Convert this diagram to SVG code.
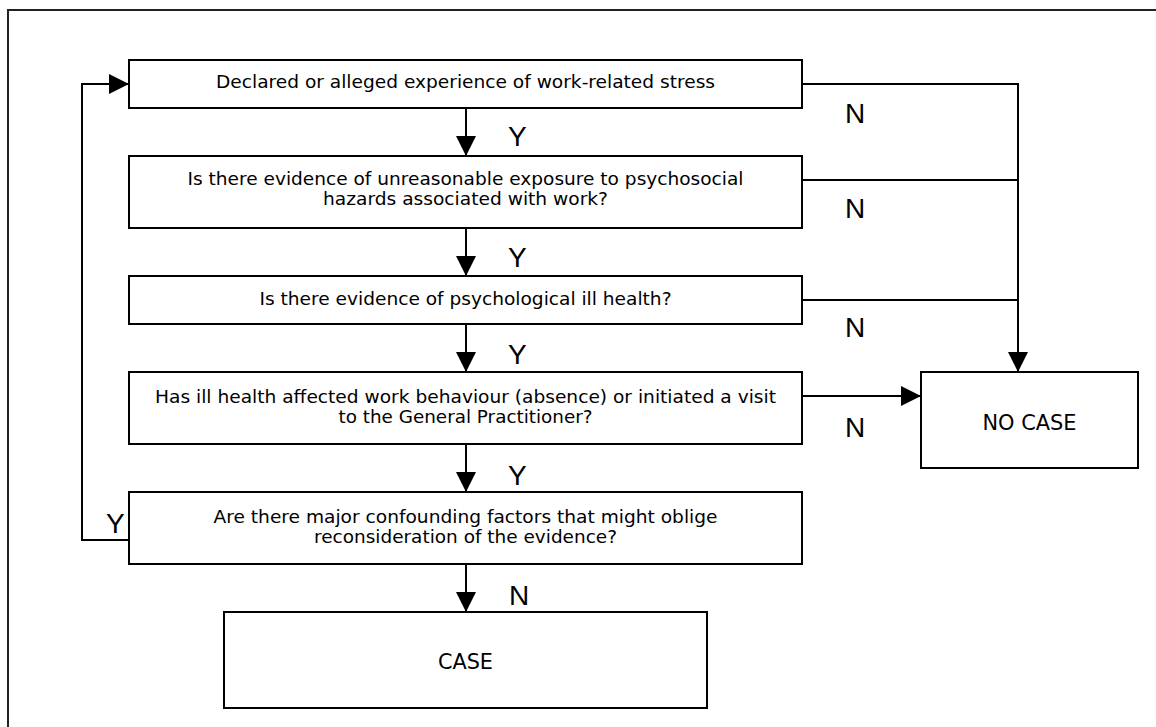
<svg xmlns="http://www.w3.org/2000/svg" width="1156" height="727" viewBox="0 0 1156 727">
<style>
.box{fill:#fff;stroke:#000;stroke-width:2}
.t{font-family:"DejaVu Sans",Verdana,sans-serif;font-size:17px;fill:#000;text-anchor:middle}
.big{font-family:"DejaVu Sans",Verdana,sans-serif;font-size:20.5px;fill:#000;text-anchor:middle}
.lbl{font-family:"Liberation Sans",Arial,sans-serif;font-size:28px;fill:#000}
.ln{fill:none;stroke:#000;stroke-width:2}
</style>
<defs>
<marker id="ah" markerWidth="20" markerHeight="20" refX="20" refY="10" orient="auto" markerUnits="userSpaceOnUse">
<path d="M0,0 L20,10 L0,20 Z" fill="#000"/>
</marker>
</defs>
<rect x="0" y="0" width="1156" height="727" fill="#fff"/>
<rect x="8" y="10" width="1160" height="730" fill="none" stroke="#222" stroke-width="2"/>

<g id="connectors">
<line class="ln" x1="466" y1="108" x2="466" y2="156" marker-end="url(#ah)"/>
<line class="ln" x1="466" y1="228" x2="466" y2="276" marker-end="url(#ah)"/>
<line class="ln" x1="466" y1="324" x2="466" y2="372" marker-end="url(#ah)"/>
<line class="ln" x1="466" y1="444" x2="466" y2="492" marker-end="url(#ah)"/>
<line class="ln" x1="466" y1="564" x2="466" y2="612" marker-end="url(#ah)"/>
<polyline class="ln" points="802,84 1018,84 1018,372" marker-end="url(#ah)"/>
<line class="ln" x1="802" y1="180" x2="1018" y2="180"/>
<line class="ln" x1="802" y1="300" x2="1018" y2="300"/>
<line class="ln" x1="802" y1="396" x2="921" y2="396" marker-end="url(#ah)"/>
<polyline class="ln" points="129,540 82,540 82,84 129,84" marker-end="url(#ah)"/>
<text class="lbl" x="508" y="146">Y</text>
<text class="lbl" x="508" y="267">Y</text>
<text class="lbl" x="508" y="364">Y</text>
<text class="lbl" x="508" y="485">Y</text>
<text class="lbl" x="509" y="605">N</text>
<text class="lbl" x="106" y="533">Y</text>
<text class="lbl" x="845" y="123">N</text>
<text class="lbl" x="845" y="218">N</text>
<text class="lbl" x="845" y="337">N</text>
<text class="lbl" x="845" y="437">N</text>
</g>

<g id="n1">
<rect class="box" x="129" y="60" width="673" height="48"/>
<text class="t" x="465.5" y="88" textLength="499" lengthAdjust="spacingAndGlyphs">Declared or alleged experience of work-related stress</text>
</g>
<g id="n2">
<rect class="box" x="129" y="156" width="673" height="72"/>
<text class="t" x="465.5" y="185" textLength="556" lengthAdjust="spacingAndGlyphs">Is there evidence of unreasonable exposure to psychosocial</text>
<text class="t" x="465.5" y="205" textLength="285" lengthAdjust="spacingAndGlyphs">hazards associated with work?</text>
</g>
<g id="n3">
<rect class="box" x="129" y="276" width="673" height="48"/>
<text class="t" x="465.5" y="305" textLength="412" lengthAdjust="spacingAndGlyphs">Is there evidence of psychological ill health?</text>
</g>
<g id="n4">
<rect class="box" x="129" y="372" width="673" height="72"/>
<text class="t" x="465.5" y="403" textLength="621" lengthAdjust="spacingAndGlyphs">Has ill health affected work behaviour (absence) or initiated a visit</text>
<text class="t" x="465.5" y="423" textLength="254" lengthAdjust="spacingAndGlyphs">to the General Practitioner?</text>
</g>
<g id="n5">
<rect class="box" x="129" y="492" width="673" height="72"/>
<text class="t" x="465.5" y="523" textLength="504" lengthAdjust="spacingAndGlyphs">Are there major confounding factors that might oblige</text>
<text class="t" x="465.5" y="543" textLength="303" lengthAdjust="spacingAndGlyphs">reconsideration of the evidence?</text>
</g>
<g id="nocase">
<rect class="box" x="921" y="372" width="217" height="96"/>
<text class="big" x="1029.5" y="430" textLength="94" lengthAdjust="spacingAndGlyphs">NO CASE</text>
</g>
<g id="case">
<rect class="box" x="224" y="612" width="483" height="96"/>
<text class="big" x="465.5" y="669" textLength="55" lengthAdjust="spacingAndGlyphs">CASE</text>
</g>
</svg>
